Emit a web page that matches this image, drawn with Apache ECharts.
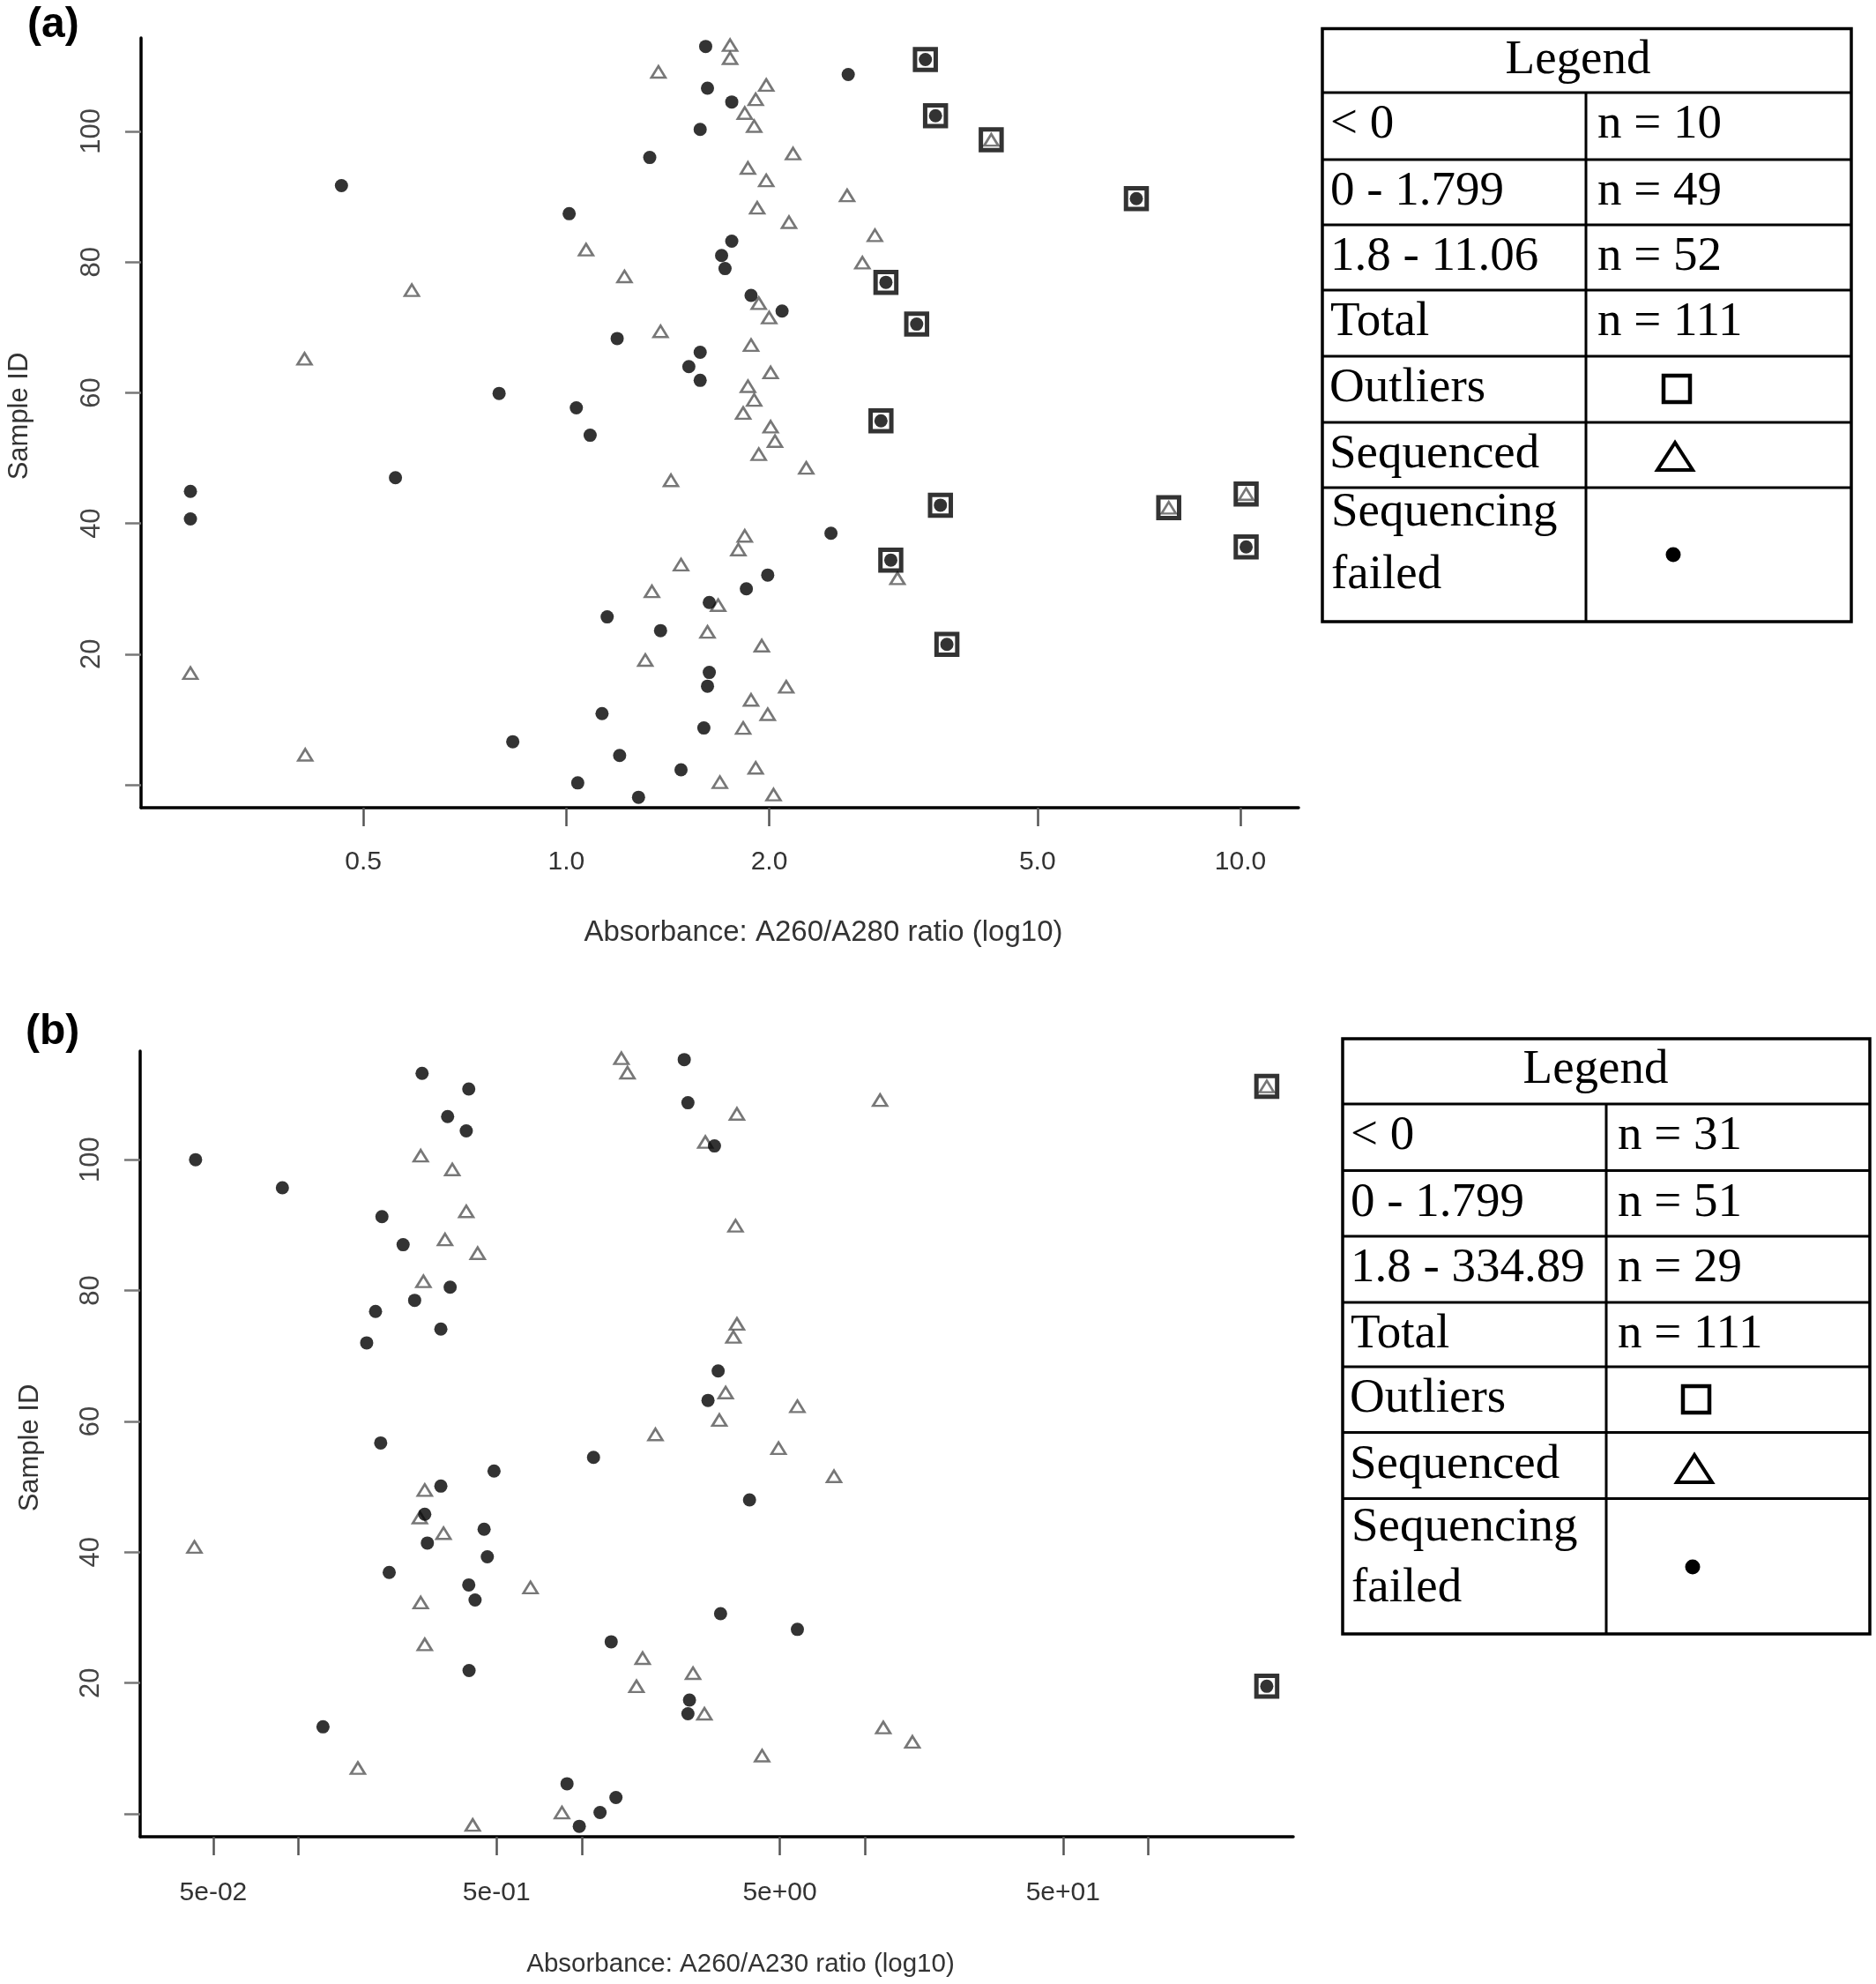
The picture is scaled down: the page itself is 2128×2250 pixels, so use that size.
<!DOCTYPE html>
<html>
<head>
<meta charset="utf-8">
<script src="https://cdn.jsdelivr.net/npm/echarts@6/dist/echarts.min.js"></script>
<style>
html,body{margin:0;padding:0;background:#fff;}
#chart{width:2128px;height:2250px;}
</style>
</head>
<body>
<div id="chart"></div>
<script>
// ---------------- Panel (a): A260/A280 ----------------
const aFailed = [
  [1.61,113.0],[2.62,108.7],[1.62,106.6],[1.76,104.5],[1.58,100.3],[1.33,96.0],[0.464,91.7],
  [1.01,87.4],[1.76,83.2],[1.70,81.0],[1.72,79.0],[1.88,74.9],[2.09,72.5],[1.19,68.3],
  [1.58,66.2],[1.52,64.0],[1.58,61.9],[0.795,59.9],[1.035,57.7],[1.085,53.5],[0.558,47.0],
  [0.277,44.9],[0.277,40.7],[2.47,38.5],[1.99,32.1],[1.85,30.0],[1.63,27.9],[1.15,25.7],
  [1.38,23.6],[1.63,17.2],[1.62,15.1],[1.13,10.9],[1.60,8.7],[0.833,6.6],[1.20,4.5],
  [1.48,2.3],[1.04,0.3],[1.28,-1.9]
];
const aSequenced = [
  [1.75,113.2],[1.75,111.2],[1.37,109.1],[1.98,107.1],[1.91,104.9],[1.84,102.8],[1.90,100.8],
  [2.17,96.6],[1.86,94.4],[1.98,92.5],[2.61,90.2],[1.92,88.3],[2.14,86.1],[2.87,84.1],
  [1.07,81.9],[2.75,79.9],[1.22,77.8],[0.59,75.7],[1.93,73.7],[2.00,71.5],[1.38,69.4],
  [1.88,67.3],[0.409,65.2],[2.01,63.1],[1.86,61.0],[1.90,58.9],[1.83,56.9],[2.01,54.8],
  [2.04,52.6],[1.93,50.6],[2.27,48.5],[1.43,46.6],[1.84,38.1],[1.80,36.0],[1.48,33.7],
  [3.10,31.6],[1.34,29.6],[1.68,27.5],[1.62,23.4],[1.95,21.3],[1.31,19.1],[0.277,17.1],
  [2.12,15.0],[1.88,13.0],[1.99,10.8],[1.83,8.7],[0.41,4.6],[1.91,2.6],[1.69,0.4],[2.03,-1.5]
];
const aOutlierFailed = [
  [3.41,111.0],[3.53,102.4],[7.01,89.7],[2.98,76.9],[3.31,70.5],[2.93,55.7],[3.59,42.8],
  [10.2,36.4],[3.03,34.4],[3.67,21.5]
];
const aOutlierSequenced = [[4.27,98.7],[10.2,44.5],[7.83,42.4]];
const aXTicks = [0.5, 1, 2, 5, 10];
const aYTicks = [0, 20, 40, 60, 80, 100];
const aYLabels = [20, 40, 60, 80, 100];
const aLegendRows = ['< 0', '0 - 1.799', '1.8 - 11.06', 'Total'];
const aLegendCounts = ['n = 10', 'n = 49', 'n = 52', 'n = 111'];

// ---------------- Panel (b): A260/A230 ----------------
const bFailed = [
  [2.30,115.3],[0.273,113.2],[0.399,110.8],[2.37,108.7],[0.336,106.6],[0.391,104.4],[2.94,102.1],
  [0.0433,100.0],[0.0877,95.7],[0.197,91.3],[0.234,87.0],[0.343,80.5],[0.257,78.5],[0.187,76.8],
  [0.318,74.1],[0.174,72.0],[3.03,67.7],[2.79,63.2],[0.195,56.7],[1.10,54.5],[0.49,52.4],
  [0.318,50.1],[3.91,48.0],[0.279,45.8],[0.452,43.5],[0.285,41.4],[0.464,39.3],[0.209,36.9],
  [0.399,35.0],[0.420,32.7],[3.09,30.6],[5.77,28.2],[1.27,26.3],[0.400,21.9],[2.40,17.4],
  [2.37,15.3],[0.122,13.3],[0.887,4.6],[1.32,2.5],[1.16,0.2],[0.98,-1.9]
];
const bSequenced = [
  [1.38,115.5],[1.45,113.3],[11.3,109.1],[3.53,107.0],[2.73,102.7],[0.270,100.6],[0.349,98.5],
  [0.391,92.1],[3.49,89.9],[0.329,87.8],[0.429,85.7],[0.276,81.4],[3.53,74.9],[3.43,72.9],
  [3.22,64.4],[5.77,62.3],[3.06,60.2],[1.82,58.0],[4.95,55.9],[7.77,51.6],[0.279,49.5],
  [0.268,45.3],[0.325,42.9],[0.0429,40.8],[0.659,34.6],[0.270,32.3],[0.279,25.9],[1.64,23.8],
  [2.47,21.5],[1.56,19.5],[2.71,15.3],[11.6,13.2],[14.7,11.0],[4.33,8.9],[0.162,7.0],
  [0.851,0.2],[0.412,-1.7]
];
const bOutlierFailed = [[262,19.5]];
const bOutlierSequenced = [[262,111.2]];
const bXTicks = [0.05, 0.1, 0.5, 1, 5, 10, 50, 100];
const bXLabels = [0.05, 0.5, 5, 50];
const bYTicks = [0, 20, 40, 60, 80, 100];
const bYLabels = [20, 40, 60, 80, 100];
const bLegendRows = ['< 0', '0 - 1.799', '1.8 - 334.89', 'Total'];
const bLegendCounts = ['n = 31', 'n = 51', 'n = 29', 'n = 111'];

const legendSymbolRows = ['Outliers', 'Sequenced'];
const legendFailedLines = ['Sequencing', 'failed'];

// ---------------- styling helpers ----------------
const SANS = '"Liberation Sans", Arial, sans-serif';
const SERIF = '"Liberation Serif", "Times New Roman", serif';

function rFormat(v) {
  const e = Math.floor(Math.log10(v) + 1e-9);
  const m = Math.round(v / Math.pow(10, e));
  return m + 'e' + (e < 0 ? '-' : '+') + String(Math.abs(e)).padStart(2, '0');
}

function xAxisDef(grid, min, max, ticks, labels, fmt, margin) {
  return {
    type: 'log', logBase: 10, gridIndex: grid, min: min, max: max,
    axisLine: { show: true, onZero: false, lineStyle: { color: '#000', width: 3.5 } },
    axisTick: { show: true, customValues: ticks, length: 21, lineStyle: { color: '#555', width: 2.5 } },
    axisLabel: { show: true, customValues: labels, formatter: fmt, margin: margin,
      fontSize: 30, fontFamily: SANS, color: '#333' },
    splitLine: { show: false }, minorTick: { show: false }, minorSplitLine: { show: false }
  };
}
function yAxisDef(grid, min, max, ticks, labels) {
  return {
    type: 'value', gridIndex: grid, min: min, max: max,
    axisLine: { show: true, onZero: false, lineStyle: { color: '#000', width: 3.5 } },
    axisTick: { show: true, customValues: ticks, length: 18, lineStyle: { color: '#777', width: 2.5 } },
    axisLabel: { show: true, customValues: labels, rotate: 90, margin: 40,
      fontSize: 31, fontFamily: SANS, color: '#444' },
    splitLine: { show: false }
  };
}
function seriesFor(grid, failed, seq, outF, outS) {
  return [
    { type: 'scatter', xAxisIndex: grid, yAxisIndex: grid, silent: true, z: 3,
      data: seq.concat(outS), symbol: 'triangle', symbolSize: [16, 13],
      itemStyle: { color: 'rgba(255,255,255,0)', borderColor: '#555', borderWidth: 2.6 } },
    { type: 'scatter', xAxisIndex: grid, yAxisIndex: grid, silent: true, z: 4,
      data: failed.concat(outF), symbol: 'circle', symbolSize: 15,
      itemStyle: { color: '#000' } },
    { type: 'scatter', xAxisIndex: grid, yAxisIndex: grid, silent: true, z: 5,
      data: outF.concat(outS), symbol: 'rect', symbolSize: 23.5,
      itemStyle: { color: 'rgba(255,255,255,0)', borderColor: '#000', borderWidth: 5 } }
  ];
}

function textEl(x, y, str, size, family, opts) {
  opts = opts || {};
  return {
    type: 'text', x: x, y: y, rotation: opts.rotation || 0, silent: true, z: 10,
    style: { text: str, x: 0, y: 0, fontSize: size, fontFamily: family,
      fontWeight: opts.weight || 'normal', fill: opts.fill || '#000',
      align: opts.align || 'left', textAlign: opts.align || 'left',
      verticalAlign: 'middle', textVerticalAlign: 'middle' }
  };
}

function tableGraphics(g, rows, counts) {
  const els = [];
  const lineStyle = { stroke: '#000', lineWidth: 3, fill: null };
  els.push({ type: 'rect', silent: true, z: 10,
    shape: { x: g.left, y: g.top, width: g.right - g.left, height: g.bottom - g.top },
    style: { stroke: '#000', lineWidth: 3.5, fill: null } });
  g.rowLines.forEach(function (yy) {
    els.push({ type: 'line', silent: true, z: 10, shape: { x1: g.left, y1: yy, x2: g.right, y2: yy }, style: lineStyle });
  });
  els.push({ type: 'line', silent: true, z: 10, shape: { x1: g.col, y1: g.rowLines[0], x2: g.col, y2: g.bottom }, style: lineStyle });
  els.push(textEl(g.headerX, g.top + 36, 'Legend', 55, SERIF, { align: 'center' }));
  rows.forEach(function (r, i) {
    const yy = g.rowLines[i] + 37;
    els.push(textEl(g.left + 9, yy, r, 55, SERIF));
    els.push(textEl(g.col + 13, yy, counts[i], 55, SERIF));
  });
  legendSymbolRows.forEach(function (r, i) {
    els.push(textEl(g.left + 8, g.rowLines[4 + i] + 37, r, 55, SERIF));
  });
  els.push(textEl(g.left + 10, g.failY[0], legendFailedLines[0], 55, SERIF));
  els.push(textEl(g.left + 10, g.failY[1], legendFailedLines[1], 55, SERIF));
  // symbols
  const sq = g.sq, tr = g.tri, dt = g.dot;
  els.push({ type: 'rect', silent: true, z: 10, shape: { x: sq[0] - 15, y: sq[1] - 15, width: 30, height: 30 },
    style: { stroke: '#000', lineWidth: 4.5, fill: null } });
  els.push({ type: 'polygon', silent: true, z: 10,
    shape: { points: [[tr[0], tr[1] - 16], [tr[0] - 20, tr[1] + 15], [tr[0] + 20, tr[1] + 15]] },
    style: { stroke: '#000', lineWidth: 4, fill: null } });
  els.push({ type: 'circle', silent: true, z: 10, shape: { cx: dt[0], cy: dt[1], r: 8.5 }, style: { fill: '#000' } });
  return els;
}

const tableA = { left: 1500, right: 2100, top: 32.5, bottom: 705, col: 1799, headerX: 1790,
  rowLines: [105, 181, 255, 329, 404, 479, 553], failY: [582, 653],
  sq: [1902, 441], tri: [1900, 518], dot: [1898, 629] };
const tableB = { left: 1523, right: 2121, top: 1178, bottom: 1853, col: 1822, headerX: 1810,
  rowLines: [1252, 1327.5, 1402, 1477, 1550, 1624.5, 1699.5], failY: [1733, 1802],
  sq: [1924, 1587], tri: [1922, 1666], dot: [1920, 1777] };

const graphics = []
  .concat(tableGraphics(tableA, aLegendRows, aLegendCounts))
  .concat(tableGraphics(tableB, bLegendRows, bLegendCounts))
  .concat([
    textEl(31, 29, '(a)', 48, SANS, { weight: 'bold' }),
    textEl(29, 1171, '(b)', 48, SANS, { weight: 'bold' }),
    textEl(934, 1058, 'Absorbance: A260/A280 ratio (log10)', 33, SANS, { align: 'center', fill: '#333' }),
    textEl(840, 2228, 'Absorbance: A260/A230 ratio (log10)', 29.5, SANS, { align: 'center', fill: '#333' }),
    textEl(22, 472, 'Sample ID', 31, SANS, { align: 'center', rotation: Math.PI / 2, fill: '#333' }),
    textEl(34, 1642, 'Sample ID', 31, SANS, { align: 'center', rotation: Math.PI / 2, fill: '#333' })
  ]);

const option = {
  backgroundColor: '#fff',
  animation: false,
  grid: [
    { left: 160, top: 43, width: 1313, height: 873, containLabel: false, outerBoundsMode: 'none' },
    { left: 159, top: 1192, width: 1308, height: 891, containLabel: false, outerBoundsMode: 'none' }
  ],
  xAxis: [
    xAxisDef(0, 0.234, 12.2, aXTicks, aXTicks, function (v) { return Number(v).toFixed(1); }, 47),
    xAxisDef(1, 0.0276, 325, bXTicks, bXLabels, rFormat, 49)
  ],
  yAxis: [
    yAxisDef(0, -3.5, 114.3, aYTicks, aYLabels),
    yAxisDef(1, -3.5, 116.6, bYTicks, bYLabels)
  ],
  series: []
    .concat(seriesFor(0, aFailed, aSequenced, aOutlierFailed, aOutlierSequenced))
    .concat(seriesFor(1, bFailed, bSequenced, bOutlierFailed, bOutlierSequenced)),
  graphic: { elements: graphics }
};

const chart = echarts.init(document.getElementById('chart'), null, { renderer: 'canvas' });
chart.setOption(option);
</script>
</body>
</html>
